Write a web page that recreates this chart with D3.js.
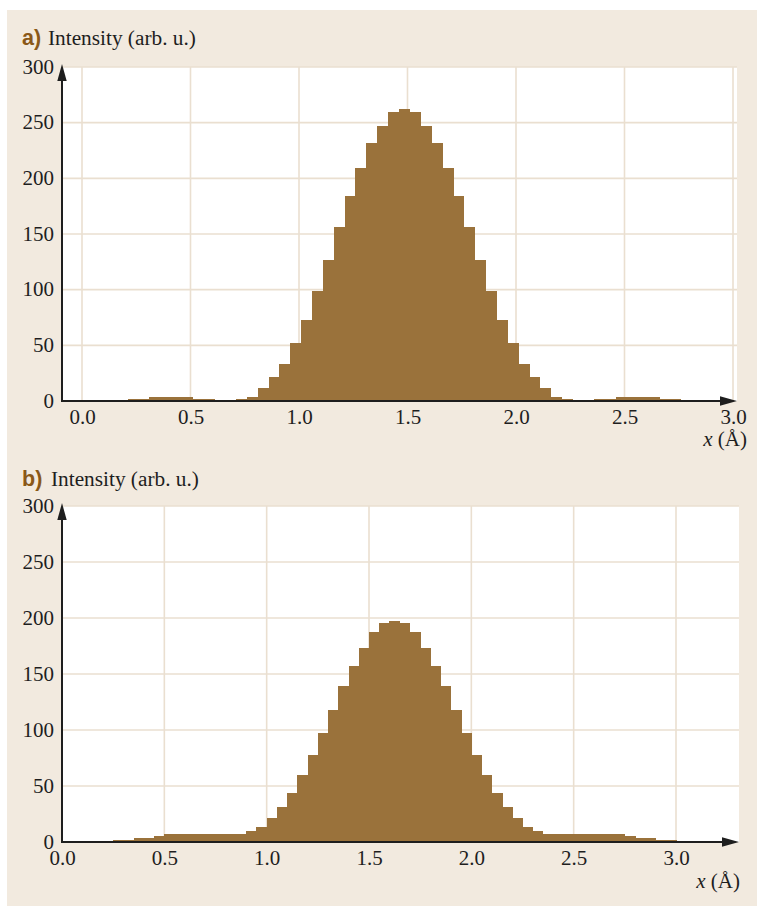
<!DOCTYPE html>
<html>
<head>
<meta charset="utf-8">
<script src="https://cdn.jsdelivr.net/npm/d3@7"></script>
<style>
  html, body { margin: 0; padding: 0; background: #ffffff; }
  svg { display: block; }
</style>
</head>
<body>
<svg id="chart" width="757" height="906"></svg>
<script>
// Histogram bin width (Å)
const binWidth = 0.05;

// Panel a): lower bin edges (Å) and intensities
const binsA = [0.21, 0.26, 0.31, 0.36, 0.41, 0.46, 0.51, 0.56, 0.61, 0.66,
               0.71, 0.76, 0.81, 0.86, 0.91, 0.96, 1.01, 1.06, 1.11, 1.16,
               1.21, 1.26, 1.31, 1.36, 1.41, 1.46, 1.51, 1.56, 1.61, 1.66,
               1.71, 1.76, 1.81, 1.86, 1.91, 1.96, 2.01, 2.06, 2.11, 2.16,
               2.21, 2.26, 2.31, 2.36, 2.41, 2.46, 2.51, 2.56, 2.61, 2.66,
               2.71];
const countsA = [1.8, 1.8, 3.6, 3.6, 3.6, 3.6, 1.8, 1.8, 0, 0,
                 1.8, 3.6, 11.6, 21.5, 33, 52, 73, 99, 127, 156,
                 184, 209, 232, 247, 260, 262, 260, 247, 232, 209,
                 184, 156, 127, 99, 73, 52, 33, 21.5, 11.6, 3.6,
                 1.8, 0, 0, 1.8, 1.8, 3.6, 3.6, 3.6, 3.6, 1.8,
                 1.8];

// Panel b): lower bin edges (Å) and intensities
const binsB = [0.25, 0.30, 0.35, 0.40, 0.45, 0.50, 0.55, 0.60, 0.65, 0.70,
               0.75, 0.80, 0.85, 0.90, 0.95, 1.00, 1.05, 1.10, 1.15, 1.20,
               1.25, 1.30, 1.35, 1.40, 1.45, 1.50, 1.55, 1.60, 1.65, 1.70,
               1.75, 1.80, 1.85, 1.90, 1.95, 2.00, 2.05, 2.10, 2.15, 2.20,
               2.25, 2.30, 2.35, 2.40, 2.45, 2.50, 2.55, 2.60, 2.65, 2.70,
               2.75, 2.80, 2.85, 2.90, 2.95];
const countsB = [1.8, 1.8, 3.6, 3.6, 5.4, 7.1, 7.1, 7.1, 7.1, 7.1,
                 7.1, 7.1, 7.1, 10.1, 13.7, 21.7, 31.5, 44, 60, 78,
                 97.6, 118, 139.6, 157.4, 173.5, 187.8, 195.8, 197.6, 195.8, 187.8,
                 173.5, 157.4, 139.6, 118, 97.6, 78, 60, 44, 31.5, 21.7,
                 13.7, 10.1, 7.1, 7.1, 7.1, 7.1, 7.1, 7.1, 7.1, 7.1,
                 5.4, 3.6, 3.6, 1.8, 1.8];

// Tick values and texts
const xTicks = [0, 0.5, 1.0, 1.5, 2.0, 2.5, 3.0];
const yTicks = [0, 50, 100, 150, 200, 250, 300];
const panelLetters = ["a)", "b)"];
const yTitle = "Intensity (arb. u.)";
const xTitleVar = "x";
const xTitleUnit = " (Å)";

// Colours and fonts
const BG = "#f2eadf";
const GRID = "#eadfd0";
const BAR = "#9a723b";
const INK = "#1e1e1e";
const LETTER = "#8a5818";
const SERIF = "'Liberation Serif', 'Times New Roman', serif";
const SANS = "'Liberation Sans', Arial, sans-serif";
const FS = 21;

const svg = d3.select("#chart");

// beige card behind both panels
svg.append("rect")
  .attr("x", 7).attr("y", 10)
  .attr("width", 750).attr("height", 896)
  .attr("fill", BG);

function drawPanel(bins, counts, letter, L) {
  const g = svg.append("g");
  const x = d3.scaleLinear().domain([0, 3]).range(L.xRange);
  const y = d3.scaleLinear().domain([0, 300]).range([L.bottom, L.top]);

  // plot area
  g.append("rect")
    .attr("x", L.left).attr("y", L.top)
    .attr("width", L.right - L.left).attr("height", L.bottom - L.top)
    .attr("fill", "#ffffff");

  // grid
  g.append("g").selectAll("line")
    .data(xTicks.filter(t => x(t) > L.left + 1))
    .join("line")
    .attr("x1", d => x(d)).attr("x2", d => x(d))
    .attr("y1", L.top).attr("y2", L.bottom)
    .attr("stroke", GRID).attr("stroke-width", 1.6);
  g.append("g").selectAll("line")
    .data(yTicks.filter(t => t > 0))
    .join("line")
    .attr("x1", L.left).attr("x2", L.right)
    .attr("y1", d => y(d)).attr("y2", d => y(d))
    .attr("stroke", GRID).attr("stroke-width", 1.6);

  // histogram bars
  const data = bins.map((b, i) => ({ b, c: counts[i] })).filter(d => d.c > 0);
  g.append("g").attr("shape-rendering", "crispEdges")
    .selectAll("rect")
    .data(data)
    .join("rect")
    .attr("x", d => x(d.b))
    .attr("width", d => x(d.b + binWidth) - x(d.b) + 0.5)
    .attr("y", d => y(d.c))
    .attr("height", d => y(0) - y(d.c))
    .attr("fill", BAR);

  // x tick labels
  const xAxis = d3.axisBottom(x).tickValues(xTicks).tickSize(0)
    .tickFormat(d3.format(".1f"));
  const xg = g.append("g").attr("transform", `translate(0,${L.bottom})`).call(xAxis);
  xg.select(".domain").remove();
  xg.selectAll("text")
    .attr("y", 23).attr("dy", 0)
    .attr("font-family", SERIF).attr("font-size", FS).attr("fill", INK);

  // y tick labels
  const yAxis = d3.axisLeft(y).tickValues(yTicks).tickSize(0).tickFormat(d3.format("d"));
  const yg = g.append("g").attr("transform", `translate(${L.left},0)`).call(yAxis);
  yg.select(".domain").remove();
  yg.selectAll("text")
    .attr("x", -8).attr("dy", "0.3em")
    .attr("font-family", SERIF).attr("font-size", FS).attr("fill", INK);

  // axis lines with arrowheads
  g.append("line")
    .attr("x1", L.left).attr("x2", L.xTip - 12)
    .attr("y1", L.bottom).attr("y2", L.bottom)
    .attr("stroke", INK).attr("stroke-width", 2);
  g.append("line")
    .attr("x1", L.left).attr("x2", L.left)
    .attr("y1", L.bottom + 1).attr("y2", L.top + 8)
    .attr("stroke", INK).attr("stroke-width", 2);
  g.append("path")
    .attr("d", `M${L.xTip},${L.bottom} L${L.xTip - 17},${L.bottom - 4.7} L${L.xTip - 17},${L.bottom + 4.7} Z`)
    .attr("fill", INK);
  g.append("path")
    .attr("d", `M${L.left},${L.top - 3} L${L.left - 4.7},${L.top + 14} L${L.left + 4.7},${L.top + 14} Z`)
    .attr("fill", INK);

  // panel letter and y title
  g.append("text")
    .attr("x", 22).attr("y", L.titleY)
    .attr("font-family", SANS).attr("font-weight", "bold")
    .attr("font-size", 21.5).attr("fill", LETTER)
    .text(letter);
  g.append("text")
    .attr("x", L.titleX).attr("y", L.titleY)
    .attr("font-family", SERIF).attr("font-size", 21.3).attr("fill", INK)
    .text(yTitle);

  // x title
  const xt = g.append("text")
    .attr("x", L.xTitleX).attr("y", L.xTitleY)
    .attr("text-anchor", "end")
    .attr("font-family", SERIF).attr("font-size", FS).attr("fill", INK);
  xt.append("tspan").attr("font-style", "italic").text(xTitleVar);
  xt.append("tspan").text(xTitleUnit);
}

drawPanel(binsA, countsA, panelLetters[0], {
  left: 62, right: 737, top: 67, bottom: 401,
  xRange: [82, 733], xTip: 737,
  titleX: 48, titleY: 45,
  xTitleX: 747, xTitleY: 446
});

drawPanel(binsB, countsB, panelLetters[1], {
  left: 62, right: 739, top: 506, bottom: 842,
  xRange: [62, 676], xTip: 739,
  titleX: 51, titleY: 486,
  xTitleX: 740, xTitleY: 888
});
</script>
</body>
</html>
